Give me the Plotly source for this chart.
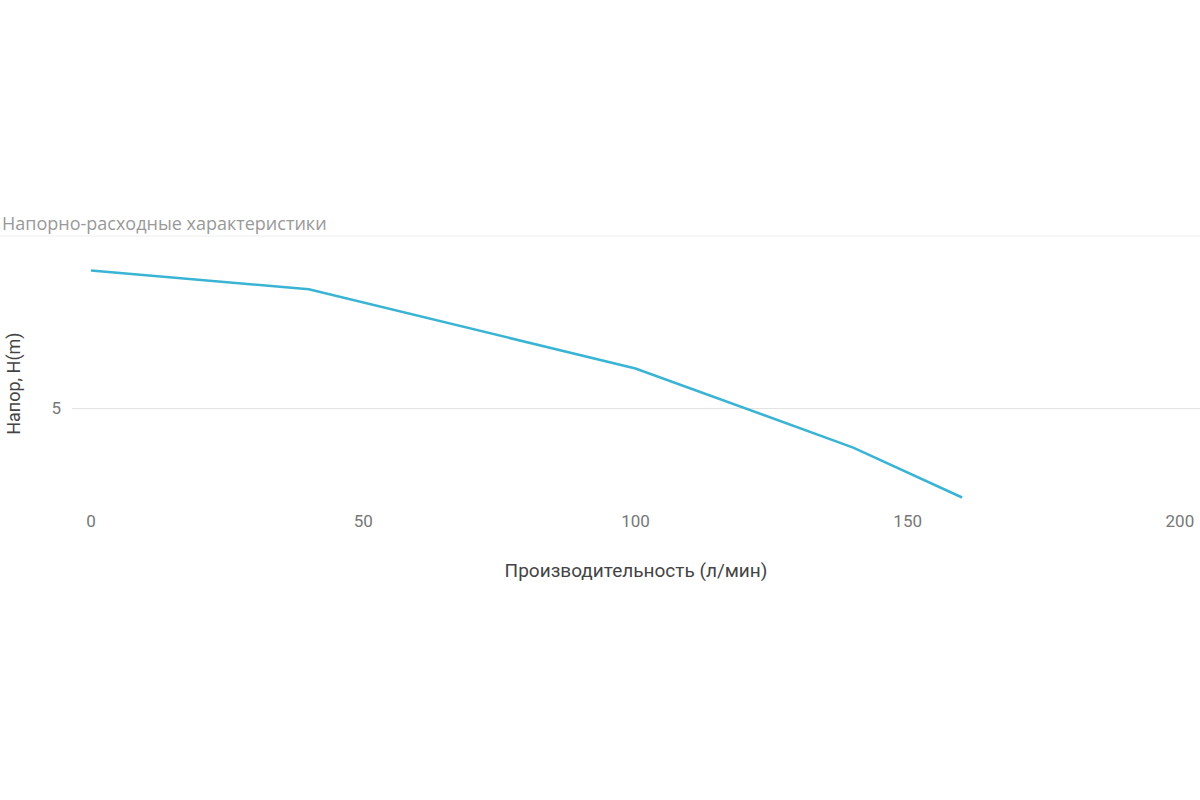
import plotly.graph_objects as go

# pump curve: flow (l/min) vs head (m)
flow = [0, 40, 100, 140, 160]
head = [9.0, 8.45, 6.15, 3.85, 2.4]

x_ticks = [0, 50, 100, 150, 200]
y_ticks = [5]

fig = go.Figure(go.Scatter(
    x=flow,
    y=head,
    mode="lines",
    line=dict(color="#3ab4d4", width=2.5),
    hoverinfo="x+y",
))

fig.update_layout(
    width=1200,
    height=800,
    paper_bgcolor="white",
    plot_bgcolor="white",
    margin=dict(l=72, r=0, t=236, b=297),
    showlegend=False,
    font=dict(family="Roboto", color="#666666", size=16),
    xaxis=dict(
        range=[-3.5, 203.7],
        tickvals=x_ticks,
        showgrid=False,
        zeroline=False,
        showline=False,
        ticks="",
        ticklabelstandoff=6,
        tickfont=dict(size=17, color="#777777"),
        title=dict(text="Производительность (л/мин)", font=dict(size=19, color="#444444"), standoff=33),
    ),
    yaxis=dict(
        range=[2.24, 10],
        tickvals=y_ticks,
        showgrid=True,
        gridcolor="#e3e3e3",
        gridwidth=1,
        zeroline=False,
        showline=False,
        ticks="",
        ticklabelstandoff=10,
        tickfont=dict(size=17, color="#777777"),
    ),
    shapes=[dict(
        type="line", xref="paper", yref="paper",
        x0=-0.07, x1=1.0, y0=1, y1=1,
        line=dict(color="#eeeeee", width=1),
    )],
    annotations=[
        dict(
            text="Напорно-расходные характеристики",
            xref="paper", yref="paper", x=-0.0637, y=1.0,
            xanchor="left", yanchor="bottom", yshift=-1, showarrow=False,
            font=dict(family="Open Sans", size=18, color="#999999"),
        ),
        dict(
            text="Напор, H(m)",
            xref="paper", yref="paper", x=-0.0515, y=0.446,
            xanchor="center", yanchor="middle", textangle=-90, showarrow=False,
            font=dict(family="Roboto", size=18, color="#444444"),
        ),
    ],
)

# drop the default page margin so the chart sits at the window origin
fig.write_html(
    "out.html",
    config={"displayModeBar": False},
    post_script="document.body.style.margin='0px';",
)
